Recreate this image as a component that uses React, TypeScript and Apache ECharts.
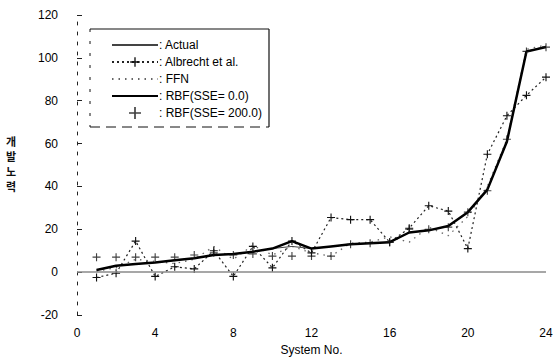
import React, { useEffect, useRef } from "react";
import * as echarts from "echarts";

const systems = [1, 2, 3, 4, 5, 6, 7, 8, 9, 10, 11, 12, 13, 14, 15, 16, 17, 18, 19, 20, 21, 22, 23, 24];
const actual = [1, 3, 3.8, 4.5, 5.5, 6.5, 8, 8.5, 9.5, 11, 12, 11, 12, 13, 13.5, 14, 18.5, 19.5, 21.5, 28, 38.5, 61, 103, 105.5];
const albrecht = [-2.5, -0.5, 14.5, -2, 2.5, 1.5, 10, -2, 12, 2, 14.5, 9, 25.5, 24.5, 24.5, 14, 20.5, 31, 28.5, 11, 55, 73, 82.5, 91];
const ffn = [0.5, 2, 6, 5, 4, 6, 12, 6, 12.5, 8, 12, 9, 7.5, 13.5, 14, 16.5, 14, 21, 17, 26, 40, 62, 104, 106];
const rbf0 = [1, 3, 3.8, 4.5, 5.5, 6.5, 8, 8.5, 9.5, 11, 14.5, 11, 12, 13, 13.5, 14, 18.5, 19.5, 21.5, 28, 38.5, 61, 103, 105];
const rbf200 = [7, 7, 7, 7, 7, 8, 9, 8, 8.5, 7.5, 7.5, 7.5, 7.5, 13, 13.5, 14, 20, 20, 21, 28, 38, 62, 103, 105];

const seriesNames = ["Actual", "Albrecht et al.", "FFN", "RBF(SSE= 0.0)", "RBF(SSE= 200.0)"];
const yAxisTitle = "개\n발\n노\n력";
const xAxisTitle = "System No.";

const FONT = "'Liberation Sans', Arial, sans-serif";
const PLUS =
  "path://M-1,-0.14L-0.14,-0.14L-0.14,-1L0.14,-1L0.14,-0.14L1,-0.14L1,0.14L0.14,0.14L0.14,1L-0.14,1L-0.14,0.14L-1,0.14Z";
const HIDDEN = { color: "rgba(0,0,0,0)", borderWidth: 0, opacity: 0 };

export default function App() {
  const ref = useRef<HTMLDivElement>(null);
  useEffect(() => {
    const chart = echarts.init(ref.current!, null, { renderer: "svg" });
    const pts = (arr: number[]) => systems.map((x, i) => [x, arr[i]]);
    chart.setOption({
      animation: false,
      backgroundColor: "#fff",
      grid: { left: 77, right: 14, top: 15, bottom: 46 },
      xAxis: {
        type: "value",
        min: 0,
        max: 24,
        interval: 4,
        axisLine: { show: false },
        axisTick: { show: false },
        splitLine: { show: false },
        axisLabel: { margin: 12, fontSize: 12, color: "#000", fontFamily: FONT },
        name: xAxisTitle,
        nameLocation: "middle",
        nameGap: 25,
        nameTextStyle: { fontSize: 12, color: "#000", fontFamily: FONT },
      },
      yAxis: {
        type: "value",
        min: -20,
        max: 120,
        interval: 20,
        axisLine: { show: true, onZero: false, lineStyle: { color: "#222", width: 1, type: [3, 7] } },
        axisTick: { show: true, inside: true, length: 5, lineStyle: { color: "#222" } },
        splitLine: { show: false },
        axisLabel: { margin: 19, fontSize: 12, color: "#000", fontFamily: FONT },
      },
      legend: {
        orient: "vertical",
        left: 106,
        top: 34,
        itemWidth: 46,
        itemHeight: 12,
        itemGap: 5,
        formatter: ": {name}",
        textStyle: { fontSize: 12, color: "#000", fontFamily: FONT, padding: [0, 0, 0, -4] },
        data: [
          { name: seriesNames[0], itemStyle: HIDDEN },
          { name: seriesNames[1] },
          { name: seriesNames[2], itemStyle: HIDDEN },
          { name: seriesNames[3], itemStyle: HIDDEN },
          { name: seriesNames[4] },
        ],
      },
      graphic: [
        { type: "line", shape: { x1: 90, y1: 29, x2: 269, y2: 29 }, style: { stroke: "#111", lineWidth: 1.2 } },
        { type: "line", shape: { x1: 269, y1: 29, x2: 269, y2: 127 }, style: { stroke: "#111", lineWidth: 1.2 } },
        { type: "line", shape: { x1: 90, y1: 29, x2: 90, y2: 127 }, style: { stroke: "#111", lineWidth: 1, lineDash: [3, 9] } },
        { type: "line", shape: { x1: 90, y1: 127, x2: 269, y2: 127 }, style: { stroke: "#111", lineWidth: 1, lineDash: [10, 6] } },
        {
          type: "text",
          left: 6,
          top: 133,
          style: {
            text: yAxisTitle,
            font: "bold 11px 'Noto Sans CJK KR'",
            fill: "#111",
            lineHeight: 15,
          },
        },
      ],
      series: [
        {
          name: seriesNames[0],
          type: "line",
          data: pts(actual),
          symbol: "none",
          itemStyle: { color: "#444" },
          lineStyle: { color: "#444", width: 1 },
          z: 3,
          markLine: {
            silent: true,
            symbol: ["none", "none"],
            label: { show: false },
            lineStyle: { color: "#8a8a8a", width: 1.5, type: "solid" },
            data: [{ yAxis: 0 }],
          },
        },
        {
          name: seriesNames[1],
          type: "line",
          data: pts(albrecht),
          symbol: PLUS,
          symbolSize: 8,
          itemStyle: { color: "#111" },
          lineStyle: { color: "#222", width: 1.2, type: [2, 3] },
          z: 2,
        },
        {
          name: seriesNames[2],
          type: "line",
          data: pts(ffn),
          symbol: "none",
          itemStyle: { color: "#666" },
          lineStyle: { color: "#666", width: 1.3, type: [1.5, 5] },
          z: 2,
        },
        {
          name: seriesNames[3],
          type: "line",
          data: pts(rbf0),
          symbol: "none",
          itemStyle: { color: "#000" },
          lineStyle: { color: "#000", width: 2.5 },
          z: 4,
        },
        {
          name: seriesNames[4],
          type: "scatter",
          data: pts(rbf200),
          symbol: PLUS,
          symbolSize: 8,
          itemStyle: { color: "#111" },
          z: 5,
        },
      ],
    });
    return () => chart.dispose();
  }, []);
  return <div ref={ref} style={{ position: "fixed", left: 0, top: 0, width: 560, height: 361 }} />;
}
